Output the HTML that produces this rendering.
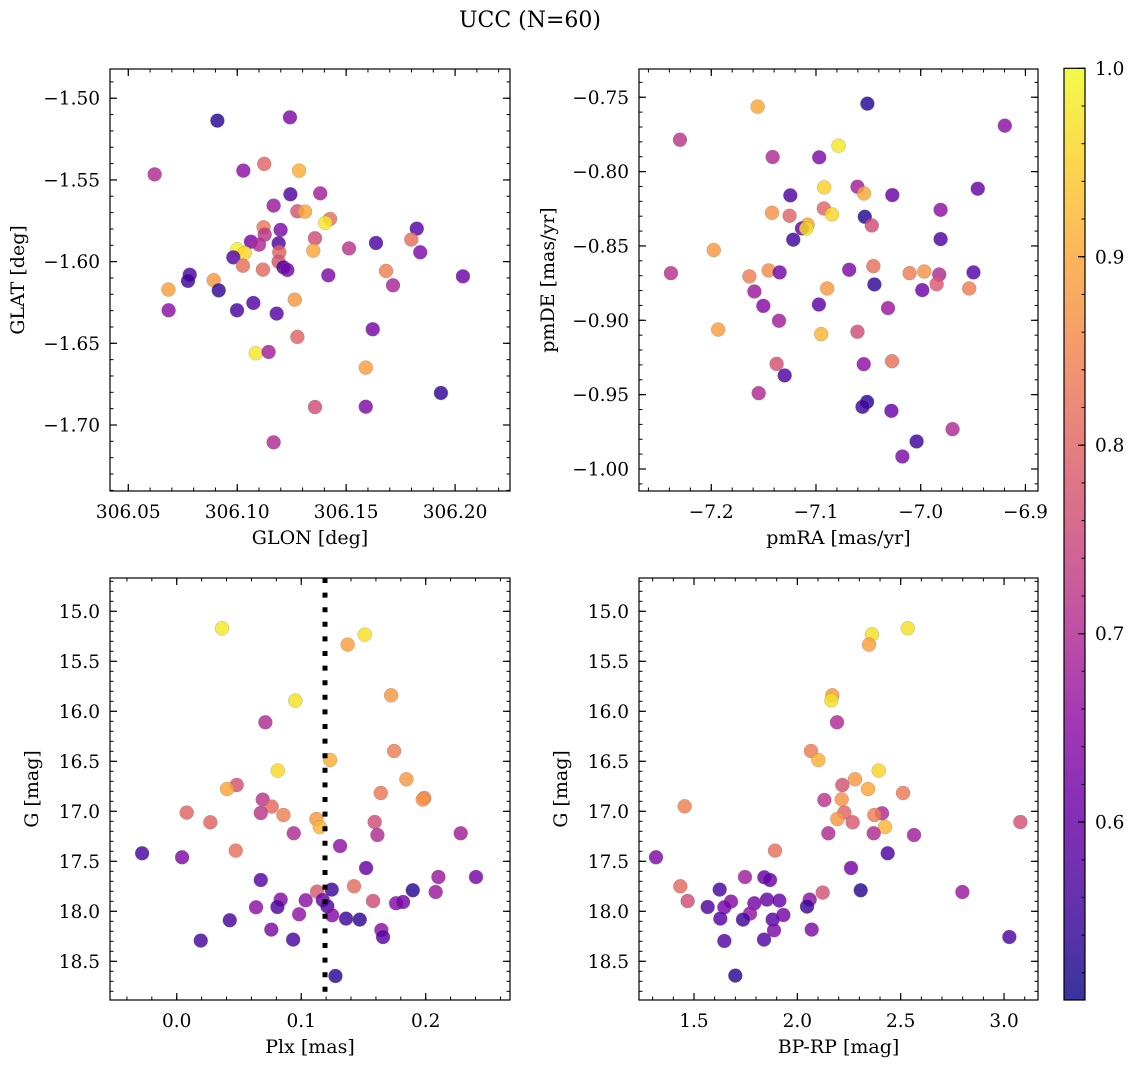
<!DOCTYPE html>
<html><head><meta charset="utf-8">
<style>
html,body{margin:0;padding:0;background:#fff;}
svg{display:block;font-family:"DejaVu Serif","Liberation Serif",serif;}
</style></head>
<body>
<svg id="fig" width="1136" height="1068" viewBox="0 0 1136 1068" xmlns="http://www.w3.org/2000/svg">
<rect x="0" y="0" width="1136" height="1068" fill="#fff"/>
<text x="530" y="27" font-size="22" text-anchor="middle">UCC (N=60)</text>
</svg>
<script>
// ---- Panel 1: GLON vs GLAT ----
const p1Glon=[306.0909,306.1242,306.0621,306.1028,306.1124,306.1284,306.1244,306.1381,306.1167,306.1276,306.1311,306.1426,306.1404,306.1121,306.1199,306.1126,306.1824,306.1063,306.1100,306.1190,306.1357,306.1000,306.1034,306.0982,306.1193,306.1349,306.1513,306.1637,306.1799,306.1840,306.1190,306.1026,306.1118,306.1212,306.1230,306.0782,306.0774,306.0892,306.1418,306.1683,306.2036,306.1715,306.0684,306.0915,306.0685,306.0999,306.1074,306.1181,306.1264,306.1622,306.1276,306.1085,306.1144,306.1590,306.1935,306.1357,306.1590,306.1167];
const p1Glat=[-1.5137,-1.5117,-1.5466,-1.5443,-1.5402,-1.5443,-1.5588,-1.5582,-1.5657,-1.5692,-1.5694,-1.5739,-1.5763,-1.5790,-1.5806,-1.5835,-1.5798,-1.5878,-1.5896,-1.5888,-1.5857,-1.5925,-1.5947,-1.5974,-1.5943,-1.5933,-1.5919,-1.5886,-1.5865,-1.5943,-1.6000,-1.6025,-1.6049,-1.6035,-1.6051,-1.6080,-1.6118,-1.6114,-1.6084,-1.6057,-1.6090,-1.6145,-1.6171,-1.6176,-1.6298,-1.6298,-1.6253,-1.6318,-1.6233,-1.6414,-1.6461,-1.6561,-1.6553,-1.6649,-1.6804,-1.6890,-1.6888,-1.7106];
const p1Prob=[0.53,0.63,0.70,0.65,0.80,0.91,0.57,0.68,0.67,0.77,0.90,0.82,0.98,0.83,0.63,0.72,0.58,0.62,0.70,0.57,0.76,0.99,0.96,0.58,0.80,0.90,0.72,0.57,0.82,0.63,0.77,0.82,0.81,0.57,0.62,0.57,0.55,0.88,0.63,0.84,0.61,0.69,0.89,0.54,0.65,0.56,0.58,0.58,0.88,0.62,0.80,0.98,0.68,0.89,0.54,0.76,0.63,0.70];
// ---- Panel 2: pmRA vs pmDE ----
const p2PmRA=[-7.1557,-7.0509,-6.9197,-7.2299,-7.0785,-7.1414,-7.0969,-7.0922,-7.0604,-7.0541,-7.1245,-7.0271,-6.9455,-7.1420,-7.1252,-7.0925,-7.0848,-7.0534,-6.9810,-7.1080,-7.1134,-7.1093,-7.0467,-7.1217,-6.9810,-7.1976,-7.2385,-7.1636,-7.1452,-7.1347,-7.0683,-7.0452,-7.0442,-7.0106,-6.9966,-6.9823,-6.9848,-6.9496,-6.9985,-6.9537,-7.0893,-7.1588,-7.1503,-7.0972,-7.0312,-7.1353,-7.1934,-7.0604,-7.0950,-7.1376,-7.0544,-7.0274,-7.1299,-7.1547,-7.0512,-7.0556,-7.0280,-6.9696,-7.0039,-7.0175];
const p2PmDE=[-0.7563,-0.7543,-0.7691,-0.7786,-0.7826,-0.7902,-0.7904,-0.8106,-0.8102,-0.8147,-0.8160,-0.8158,-0.8115,-0.8277,-0.8297,-0.8248,-0.8288,-0.8304,-0.8257,-0.8357,-0.8382,-0.8382,-0.8362,-0.8458,-0.8454,-0.8528,-0.8683,-0.8705,-0.8665,-0.8678,-0.8660,-0.8636,-0.8759,-0.8683,-0.8672,-0.8692,-0.8757,-0.8678,-0.8797,-0.8786,-0.8786,-0.8806,-0.8903,-0.8894,-0.8918,-0.9003,-0.9062,-0.9077,-0.9093,-0.9293,-0.9295,-0.9275,-0.9371,-0.9490,-0.9549,-0.9582,-0.9609,-0.9732,-0.9815,-0.9916];
const p2Prob=[0.90,0.53,0.65,0.72,0.98,0.70,0.63,0.95,0.68,0.90,0.57,0.60,0.60,0.87,0.80,0.80,0.96,0.53,0.65,0.90,0.60,0.97,0.76,0.55,0.57,0.88,0.71,0.84,0.86,0.62,0.63,0.82,0.54,0.84,0.87,0.70,0.78,0.58,0.61,0.84,0.88,0.67,0.64,0.59,0.67,0.68,0.89,0.76,0.92,0.77,0.65,0.82,0.57,0.70,0.53,0.55,0.60,0.70,0.55,0.63];
// ---- Panel 3: Plx vs G ----
const p3Plx=[0.0364,0.1510,0.1373,0.0953,0.1722,0.0712,0.1746,0.1232,0.0811,0.1845,0.0482,0.0404,0.1639,0.1988,0.1976,0.0691,0.0763,0.0080,0.0675,0.0857,0.1122,0.1149,0.0270,0.1590,0.0940,0.1612,0.2281,0.1312,-0.0278,0.0043,0.0474,0.1521,0.0675,0.2102,0.2404,0.1424,0.1127,0.1245,0.1896,0.2080,0.0835,0.1036,0.1173,0.1577,0.1762,0.1818,0.0637,0.0809,0.1210,0.0983,0.1248,0.1360,0.1470,0.0426,0.0760,0.1644,0.1657,0.0193,0.0935,0.1275];
const p3G=[15.17,15.233,15.333,15.893,15.84,16.11,16.397,16.487,16.593,16.68,16.737,16.777,16.817,16.867,16.883,16.883,16.953,17.013,17.017,17.037,17.077,17.157,17.11,17.107,17.22,17.237,17.22,17.347,17.42,17.46,17.393,17.567,17.687,17.657,17.657,17.75,17.803,17.783,17.79,17.807,17.883,17.89,17.887,17.897,17.92,17.907,17.96,17.957,17.95,18.03,18.04,18.073,18.083,18.09,18.183,18.187,18.257,18.293,18.283,18.647];
const p3Prob=[0.98,0.97,0.89,0.97,0.88,0.70,0.84,0.91,0.96,0.88,0.77,0.90,0.83,0.84,0.87,0.72,0.81,0.80,0.72,0.84,0.88,0.92,0.80,0.76,0.70,0.70,0.68,0.65,0.56,0.63,0.82,0.60,0.58,0.67,0.62,0.81,0.78,0.55,0.53,0.67,0.64,0.65,0.60,0.76,0.64,0.62,0.65,0.57,0.57,0.66,0.64,0.55,0.54,0.56,0.63,0.65,0.58,0.56,0.56,0.53];
const plxLine=0.1191;
// ---- Panel 4: BP-RP vs G ----
const p4Color=[2.5339,2.3613,2.3468,2.1694,2.1645,2.1919,2.0661,2.1016,2.3935,2.2790,2.2177,2.3419,2.5113,2.1306,2.2145,1.4548,2.2274,2.4097,2.3726,2.1935,2.2677,2.4242,3.0790,2.15,2.3694,2.5645,2.4371,1.3161,1.8919,2.2597,1.7468,1.8403,1.8677,1.4339,1.6242,2.3065,2.1226,2.7984,1.4694,1.679,1.8532,1.9129,2.0597,1.5661,1.6468,1.7919,2.0468,1.9323,1.771,1.6274,1.7371,1.8806,1.8871,2.0694,1.6468,1.8387,3.0258,1.7];
const p4G=[15.17,15.23,15.333,15.84,15.89,16.11,16.397,16.487,16.593,16.68,16.737,16.777,16.817,16.887,16.88,16.95,17.013,17.02,17.037,17.077,17.11,17.157,17.107,17.22,17.22,17.237,17.42,17.46,17.393,17.567,17.657,17.66,17.687,17.75,17.783,17.79,17.813,17.807,17.897,17.903,17.883,17.893,17.883,17.957,17.96,17.92,17.953,18.037,18.023,18.073,18.083,18.083,18.19,18.183,18.297,18.283,18.257,18.643];
const p4Prob=[0.97,0.97,0.89,0.88,0.97,0.70,0.84,0.91,0.96,0.88,0.77,0.90,0.83,0.72,0.87,0.84,0.80,0.70,0.84,0.88,0.78,0.92,0.77,0.70,0.70,0.68,0.57,0.63,0.82,0.62,0.68,0.60,0.60,0.81,0.56,0.53,0.77,0.67,0.76,0.64,0.60,0.60,0.65,0.57,0.62,0.62,0.55,0.62,0.66,0.58,0.55,0.58,0.63,0.63,0.58,0.58,0.57,0.53];
const cbTicks=[0.6,0.7,0.8,0.9,1.0];

const NS="http://www.w3.org/2000/svg";
const svg=document.getElementById('fig');
const cmin=0.5056, cmax=1.0;
const plasma=[[13,8,135],[65,4,157],[106,0,168],[143,13,164],[177,42,144],[204,71,120],[225,100,98],[242,132,75],[252,166,54],[252,206,37],[240,249,33]];
function cmap(v){
  let t=(v-cmin)/(cmax-cmin); t=Math.max(0,Math.min(1,t));
  const f=t*10, i=Math.min(9,Math.floor(f)), r=f-i;
  const a=plasma[i], b=plasma[i+1];
  return 'rgb('+a.map((c,k)=>Math.round(c+(b[k]-c)*r)).join(',')+')';
}
function el(tag,attrs,parent){
  const e=document.createElementNS(NS,tag);
  for(const k in attrs) e.setAttribute(k,attrs[k]);
  (parent||svg).appendChild(e); return e;
}
function fmt(v,d){const s=v.toFixed(d);return s.startsWith('-')?'\u2212'+s.slice(1):s;}
const TF=18.5, LF=19;

function panel(name,L,T,W,H,xd,yd,xMaj,xMin,yMaj,yMin,xDec,yDec,xlab,ylab,ylabX,xs,ys,cs,invertY){
  const g=el('g',{});
  
  
  const X=v=>L+(v-xd[0])/(xd[1]-xd[0])*W;
  const Y=invertY?(v=>T+(v-yd[0])/(yd[1]-yd[0])*H):(v=>T+H-(v-yd[0])/(yd[1]-yd[0])*H);
  const ticks=(lo,hi,step)=>{const a=[];for(let v=Math.ceil(lo/step-1e-6)*step;v<=hi+1e-9;v+=step)a.push(+v.toFixed(6));return a;};
  ticks(xd[0],xd[1],xMin).forEach(v=>{const x=X(v);
    el('line',{x1:x,y1:T+H,x2:x,y2:T+H-3.5,stroke:'#000','stroke-width':1},g);
    el('line',{x1:x,y1:T,x2:x,y2:T+3.5,stroke:'#000','stroke-width':1},g);});
  ticks(Math.min(...yd),Math.max(...yd),yMin).forEach(v=>{const y=Y(v);
    el('line',{x1:L,y1:y,x2:L+3.5,y2:y,stroke:'#000','stroke-width':1},g);
    el('line',{x1:L+W,y1:y,x2:L+W-3.5,y2:y,stroke:'#000','stroke-width':1},g);});
  ticks(xd[0],xd[1],xMaj).forEach(v=>{const x=X(v);
    el('line',{x1:x,y1:T+H,x2:x,y2:T+H-7,stroke:'#000','stroke-width':1.2},g);
    el('line',{x1:x,y1:T,x2:x,y2:T+7,stroke:'#000','stroke-width':1.2},g);
    const t=el('text',{x:x,y:T+H+27,'font-size':TF,'text-anchor':'middle'},g);
    t.textContent=fmt(v,xDec);
    
    });
  ticks(Math.min(...yd),Math.max(...yd),yMaj).forEach(v=>{const y=Y(v);
    el('line',{x1:L,y1:y,x2:L+7,y2:y,stroke:'#000','stroke-width':1.2},g);
    el('line',{x1:L+W,y1:y,x2:L+W-7,y2:y,stroke:'#000','stroke-width':1.2},g);
    const t=el('text',{x:L-10,y:y+6.5,'font-size':TF,'text-anchor':'end'},g);
    t.textContent=fmt(v,yDec);
    
    });
  xs.forEach((xv,i)=>{
    const c=el('circle',{cx:X(xv),cy:Y(ys[i]),r:7,fill:cmap(cs[i]),'fill-opacity':0.82,stroke:'#777','stroke-opacity':0.5,'stroke-width':0.5},g);
    
    
  });
  el('rect',{x:L,y:T,width:W,height:H,fill:'none',stroke:'#000','stroke-width':1.2},g);
  const xl=el('text',{x:L+W/2,y:T+H+53,'font-size':LF,'text-anchor':'middle'},g);
  xl.textContent=xlab;
  
  
  const yl=el('text',{x:ylabX,y:T+H/2,'font-size':LF,'text-anchor':'middle',transform:'rotate(-90 '+ylabX+' '+(T+H/2)+')'},g);
  yl.textContent=ylab;
  
  
  return {X,Y,g};
}

panel('glon-glat-panel',110,69,400,422,[306.0416,306.2252],[-1.7404,-1.4821],0.05,0.01,0.05,0.01,2,2,'GLON [deg]','GLAT [deg]',24,p1Glon,p1Glat,p1Prob,false);
panel('pm-panel',639,69,399,422,[-7.269,-6.888],[-1.0148,-0.731],0.1,0.02,0.05,0.01,1,2,'pmRA [mas/yr]','pmDE [mas/yr]',554,p2PmRA,p2PmDE,p2Prob,false);
const P3=panel('plx-g-panel',110,578,400,422,[-0.0536,0.2677],[14.667,18.887],0.1,0.02,0.5,0.1,1,1,'Plx [mas]','G [mag]',38,p3Plx,p3G,p3Prob,true);
const ln=el('line',{x1:P3.X(plxLine),y1:578,x2:P3.X(plxLine),y2:1000,stroke:'#000','stroke-width':5,'stroke-dasharray':'5,9.6'},P3.g);


panel('cmd-panel',639,578,399,422,[1.2339,3.1643],[14.667,18.887],0.5,0.1,0.5,0.1,1,1,'BP-RP [mag]','G [mag]',567,p4Color,p4G,p4Prob,true);

const cb=el('g',{});


const defs=el('defs',{});
const grad=el('linearGradient',{id:'cbg',x1:0,y1:1,x2:0,y2:0},defs);
for(let k=0;k<=20;k++){const v=cmin+(cmax-cmin)*k/20;el('stop',{offset:(k/20),'stop-color':cmap(v)},grad);}
const CT=68.3,CB=1000,CL=1064,CW=21;
const CY=v=>CB-(v-cmin)/(cmax-cmin)*(CB-CT);
el('rect',{x:CL,y:CT,width:CW,height:CB-CT,fill:'url(#cbg)','fill-opacity':0.82},cb);
for(let v=0.52;v<=1.0001;v+=0.02){const y=CY(v);el('line',{x1:CL+CW,y1:y,x2:CL+CW-3.5,y2:y,stroke:'#000','stroke-width':1},cb);}
cbTicks.forEach(v=>{const y=CY(v);
  el('line',{x1:CL+CW,y1:y,x2:CL+CW-7,y2:y,stroke:'#000','stroke-width':1.2},cb);
  const t=el('text',{x:CL+CW+10,y:y+6.5,'font-size':TF},cb);
  t.textContent=v.toFixed(1);
  
  });
el('rect',{x:CL,y:CT,width:CW,height:CB-CT,fill:'none',stroke:'#000','stroke-width':1.2},cb);
</script>
</body></html>
